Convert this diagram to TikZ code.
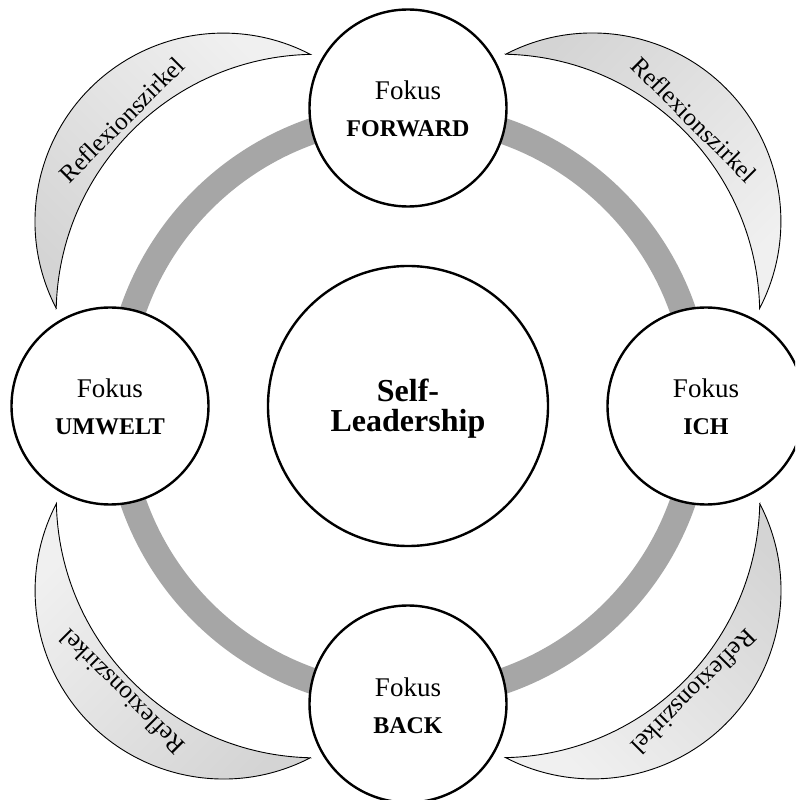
\documentclass[tikz,border=0pt]{standalone}
\usepackage{fontspec}
\setmainfont{Liberation Serif}
\definecolor{ringgray}{RGB}{166,166,166}
\definecolor{moondark}{RGB}{212,212,212}
\definecolor{moonlight}{RGB}{240,240,240}
\begin{document}
\begin{tikzpicture}[x=1pt,y=1pt,
  ringline/.style={draw=ringgray, line width=26pt},
  focus/.style={circle, draw, line width=2.4pt, fill=white, minimum size=197pt, inner sep=0pt},
  core/.style={circle, draw, line width=2.4pt, fill=white, minimum size=280pt, inner sep=0pt},
  fokustext/.style={anchor=base, inner sep=0pt, font=\fontsize{27}{30}\selectfont},
  keyword/.style={anchor=base, inner sep=0pt, font=\fontsize{24}{28}\selectfont\bfseries},
  coretext/.style={anchor=base, inner sep=0pt, font=\fontsize{32}{30}\selectfont\bfseries},
  moon/.style={draw, line width=0.9pt, top color=moonlight, bottom color=moondark},
  moonlabel/.style={inner sep=0pt, font=\fontsize{25}{28}\selectfont}]
\useasboundingbox (-408,-394) rectangle (387,406);
\clip (-408,-394) rectangle (387,406);

% grey ring linking the four focus circles
\draw[ringline] (0,0) circle[radius=291];

% crescents between the focus circles
\foreach \a/\sh/\tr/\nm in {135/-45/45/tl, 45/225/-45/tr, -45/135/-135/br, -135/45/135/bl}{
  \path[moon, shading angle=\sh]
    (\a+29.5:365) arc[start angle=\a+72.5, end angle=\a-72.5, radius=188.4]
    arc[start angle=\a-43.75, end angle=\a+43.75, radius=259.9] -- cycle;
  \node[moonlabel, rotate=\tr] (refl-\nm) at (\a:405) {Reflexionszirkel};
}

% centre
\node[core] (core) at (0,0) {};
\node[coretext] (core-a) at ([yshift=4.3pt]core.center) {Self-};
\node[coretext] (core-b) at ([yshift=-25.7pt]core.center) {Leadership};

% focus circles
\node[focus] (fwd) at (0,298) {};
\node[focus] (umw) at (-298,0) {};
\node[focus] (ich) at (298,0) {};
\node[focus] (back) at (0,-298) {};

\foreach \n/\w in {fwd/FORWARD, umw/UMWELT, ich/ICH, back/BACK}{
  \node[fokustext] (\n-a) at ([yshift=8pt]\n.center) {Fokus};
  \node[keyword] (\n-b) at ([yshift=-29pt]\n.center) {\w};
}
\end{tikzpicture}
\end{document}
